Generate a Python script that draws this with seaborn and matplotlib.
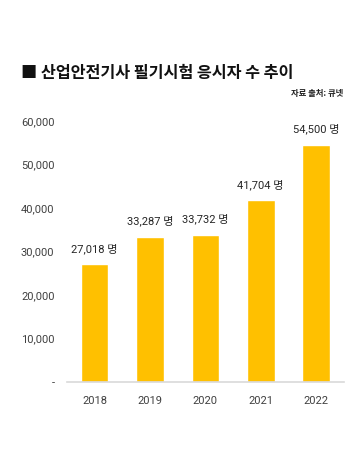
import matplotlib
matplotlib.use("Agg")
import matplotlib.pyplot as plt
import seaborn as sns
import pandas as pd

# Data
years = ["2018", "2019", "2020", "2021", "2022"]
applicants = [27018, 33287, 33732, 41704, 54500]
y_ticks = [0, 10000, 20000, 30000, 40000, 50000, 60000]

sns.set_style("white")
plt.rcParams["font.family"] = ["Roboto", "Noto Sans CJK KR", "DejaVu Sans"]

df = pd.DataFrame({"year": years, "count": applicants})

fig = plt.figure(figsize=(3.6, 4.68), dpi=100)
ax = fig.add_axes([0.186, 0.184, 0.769, 0.558])

sns.barplot(data=df, x="year", y="count", color="#FFC000", saturation=1,
            width=0.5, ax=ax)

ax.set_ylim(0, 60000)
ax.set_xlim(-0.5, 4.5)
ax.set_yticks(y_ticks)
ax.set_yticklabels(["-" if v == 0 else f"{v:,}" for v in y_ticks])
ax.set_xlabel("")
ax.set_ylabel("")
ax.tick_params(axis="y", length=0, pad=9, labelsize=8, labelcolor="#404040")
ax.tick_params(axis="x", length=0, pad=10, labelsize=8, labelcolor="#404040")

for s in ["top", "right", "left"]:
    ax.spines[s].set_visible(False)
ax.spines["bottom"].set_color("#d9d9d9")
ax.spines["bottom"].set_linewidth(1.2)

# value labels
for i, v in enumerate(applicants):
    ax.annotate(f"{v:,} 명", (i, v), xytext=(0, 7.5), textcoords="offset points",
                ha="center", va="bottom", fontsize=8, color="#262626",
                annotation_clip=False)

fig.text(0.058, 0.845, "■ 산업안전기사 필기시험 응시자 수 추이",
         fontsize=11.7, fontweight="bold", color="#111111",
         family=["Noto Sans CJK KR", "DejaVu Sans"], va="center", ha="left")
fig.text(0.953, 0.801, "자료 출처: 큐넷", fontsize=6, fontweight="bold",
         color="#222222", family=["Noto Sans CJK KR", "DejaVu Sans"],
         va="center", ha="right")

fig.savefig("out.png", dpi=100)
